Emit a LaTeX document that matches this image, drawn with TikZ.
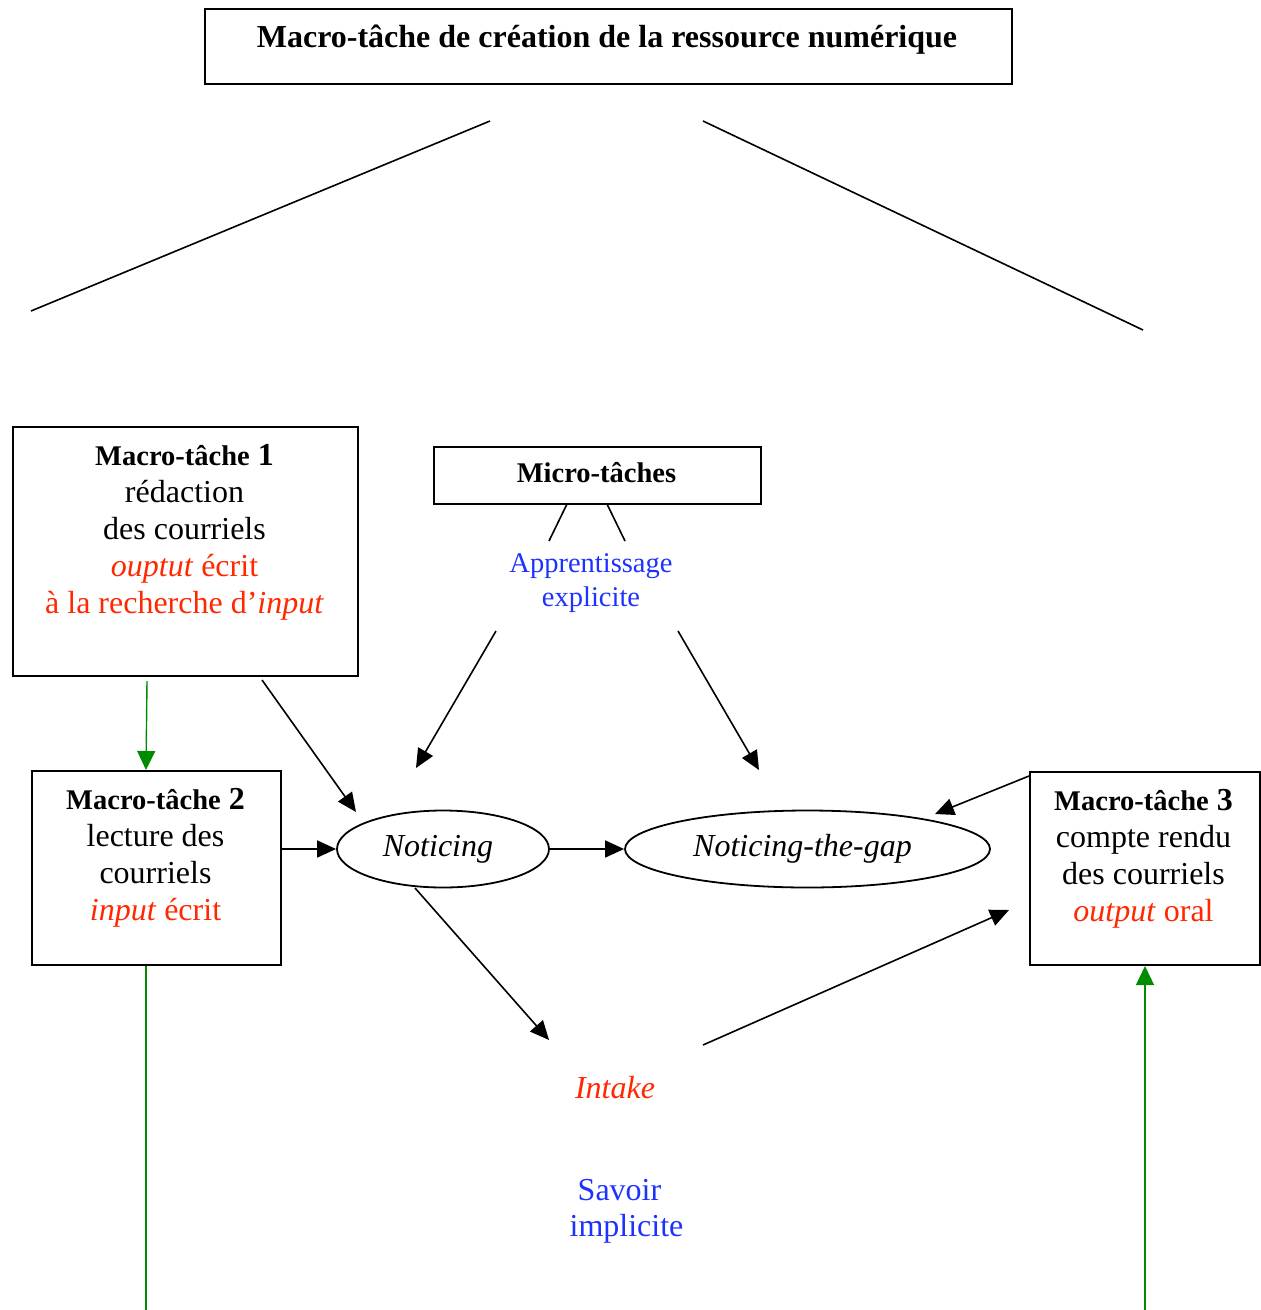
\documentclass[tikz,border=0pt]{standalone}
\usepackage{fontspec}
\setmainfont{Liberation Serif}
\usepackage{tikz}
\usetikzlibrary{arrows.meta,shapes.geometric}

\definecolor{rouge}{RGB}{255,40,0}
\definecolor{bleu}{RGB}{30,50,255}
\definecolor{vert}{RGB}{0,140,0}

\newcommand{\macrotitre}[1]{{\fontsize{28.5}{37}\selectfont\bfseries Macro-tâche} \textbf{#1}}

\tikzset{
  boite/.style={draw, line width=1.8pt, inner sep=0pt, anchor=north west},
  texte/.style={align=center, inner sep=0pt, font=\fontsize{32}{37}\selectfont},
  bulle/.style={draw, ellipse, line width=1.8pt, inner sep=0pt, font=\fontsize{32}{37}\selectfont\itshape},
  trait/.style={line width=1.6pt},
  fleche/.style={line width=1.6pt, -{Triangle[length=19pt,width=17pt]}},
  flecheverte/.style={draw=vert, line width=1.4pt, -{Triangle[length=19pt,width=18pt]}}
}

\begin{document}
\begin{tikzpicture}[x=1pt, y=-1pt]
\useasboundingbox (0,0) rectangle (1261,1310);

% titre
\node [boite, minimum width=807pt, minimum height=75pt] (creation) at (204,8) {};
\node [texte, font=\fontsize{32}{37}\selectfont\bfseries, anchor=base] (titre) at (607,47) {Macro-tâche de création de la ressource numérique};

% les trois macro-taches
\node [boite, minimum width=345pt, minimum height=249pt] (mt1) at (12,426) {};
\node [texte, anchor=north] (mt1texte) at (184.5,444) {\macrotitre{1}\\ rédaction\\ des courriels\\
  \textcolor{rouge}{\textit{ouptut} écrit}\\ \textcolor{rouge}{à la recherche d’\textit{input}}};

\node [boite, minimum width=249pt, minimum height=194pt] (mt2) at (31,770) {};
\node [texte, anchor=north] (mt2texte) at (155.5,788) {\macrotitre{2}\\ lecture des\\ courriels\\
  \textcolor{rouge}{\textit{input} écrit}};

\node [boite, minimum width=230pt, minimum height=193pt] (mt3) at (1029,771) {};
\node [texte, anchor=north] (mt3texte) at (1143.5,789) {\macrotitre{3}\\ compte rendu\\ des courriels\\
  \textcolor{rouge}{\textit{output} oral}};

% micro-taches
\node [boite, minimum width=327pt, minimum height=57pt] (micro) at (433,446) {};
\node [texte, font=\fontsize{28.5}{37}\selectfont\bfseries, anchor=base] (microtexte) at (596.5,482) {Micro-tâches};
\node [texte, font=\fontsize{28.5}{34}\selectfont, text=bleu, anchor=north] (explicite) at (591,553) {Apprentissage\\ explicite};

% noticing
\node [bulle, minimum width=212pt, minimum height=77pt] (noticing) at (443,849) {\hspace*{-10pt}Noticing};
\node [bulle, minimum width=365pt, minimum height=77pt] (gap) at (807.5,849) {\hspace*{-10pt}Noticing-the-gap};

\node [texte, font=\fontsize{32}{37}\selectfont\itshape, text=rouge, anchor=base] (intake) at (615,1098) {Intake};
\node [texte, font=\fontsize{32}{36}\selectfont, text=bleu, anchor=north] (savoir) at (619.5,1179) {Savoir\\ \hspace*{14pt}implicite};

% extremites libres
\coordinate (hautG) at (490,121);
\coordinate (basG) at (31,311);
\coordinate (hautD) at (703,121);
\coordinate (basD) at (1143,330);
\coordinate (microG) at (567,504);
\coordinate (appG) at (549,541);
\coordinate (microD) at (607,504);
\coordinate (appD) at (625,541);
\coordinate (explG) at (496,631);
\coordinate (notH) at (416,768);
\coordinate (explD) at (678,631);
\coordinate (gapH) at (759,770);
\coordinate (mt1bas) at (262,680);
\coordinate (notG) at (356,812);
\coordinate (mt3haut) at (1029,776);
\coordinate (gapD) at (935,814);
\coordinate (notB) at (415,888);
\coordinate (intakeH) at (549,1040);
\coordinate (intakeD) at (703,1045);
\coordinate (mt3G) at (1009,910);
\coordinate (vertH) at (147,681);
\coordinate (vertB) at (146,770);
\coordinate (fondG) at (146,1310);
\coordinate (fondD) at (1145,1310);
\coordinate (mt3B) at (1145,966);

% traits
\draw [trait] (hautG) -- (basG);
\draw [trait] (hautD) -- (basD);
\draw [trait] (microG) -- (appG);
\draw [trait] (microD) -- (appD);

% fleches
\draw [fleche] (explG) -- (notH);
\draw [fleche] (explD) -- (gapH);
\draw [fleche] (mt1bas) -- (notG);
\draw [fleche] (noticing.west -| mt2.east) -- (noticing.west);
\draw [fleche] (noticing.east) -- (gap.west);
\draw [fleche] (mt3haut) -- (gapD);
\draw [fleche] (notB) -- (intakeH);
\draw [fleche] (intakeD) -- (mt3G);

% fleches vertes
\draw [flecheverte] (vertH) -- (vertB);
\draw [draw=vert, line width=1.4pt] (mt2.south -| fondG) -- (fondG);
\draw [flecheverte] (fondD) -- (mt3B);
\end{tikzpicture}
\end{document}
